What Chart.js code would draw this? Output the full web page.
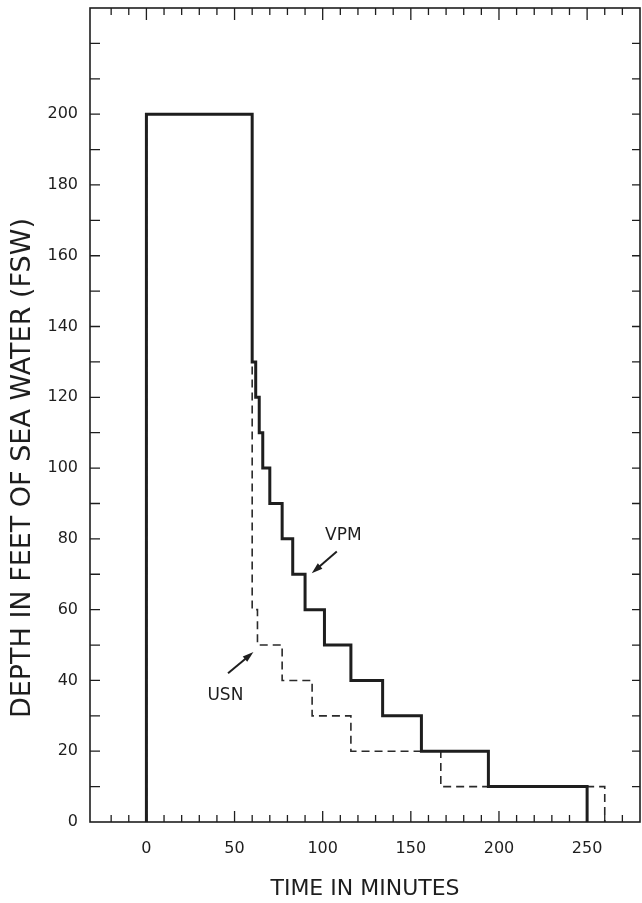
<!DOCTYPE html>
<html>
<head>
<meta charset="utf-8">
<title>VPM vs USN decompression profile</title>
<script src="https://cdn.jsdelivr.net/npm/chart.js@4.4.1/dist/chart.umd.min.js"></script>
<style>
    html, body { margin: 0; padding: 0; background: #fff; }
    #wrap { width: 642px; height: 903px; }
</style>
</head>
<body>
<div id="wrap"><canvas id="profileChart" width="642" height="903"></canvas></div>
<script>
// VPM schedule (solid): time in minutes / depth in fsw
const vpmTime  = [0, 0, 60, 60, 62, 62, 64, 64, 66, 66, 70, 70, 77, 77, 83, 83, 90, 90, 101, 101, 116, 116, 134, 134, 156, 156, 194, 194, 250, 250];
const vpmDepth = [0, 200, 200, 130, 130, 120, 120, 110, 110, 100, 100, 90, 90, 80, 80, 70, 70, 60, 60, 50, 50, 40, 40, 30, 30, 20, 20, 10, 10, 0];

// USN schedule (dashed)
const usnTime  = [0, 0, 60, 60, 63, 63, 77, 77, 94, 94, 116, 116, 167, 167, 260, 260];
const usnDepth = [0, 200, 200, 60, 60, 50, 50, 40, 40, 30, 30, 20, 20, 10, 10, 0];

// axis labels and tick marks
const xTickLabels = [0, 50, 100, 150, 200, 250];
const yTickLabels = [0, 20, 40, 60, 80, 100, 120, 140, 160, 180, 200];
const xMarks = [-20, -10, 0, 10, 20, 30, 40, 50, 60, 70, 80, 90, 100, 110, 120, 130, 140, 150, 160, 170, 180, 190, 200, 210, 220, 230, 240, 250, 260, 270];
const yMarks = [10, 20, 30, 40, 50, 60, 70, 80, 90, 100, 110, 120, 130, 140, 150, 160, 170, 180, 190, 200, 210, 220];

// arrow callouts (in minutes / fsw)
const calloutText = ['VPM', 'USN'];
const calloutAt   = [[111.7, 80.8], [44.8, 35.6]];
const calloutFrom = [[108, 76.4], [46.3, 42.0]];
const calloutTo   = [[93.8, 70.3], [60.7, 48.0]];

const INK = '#1e1e1e';
const FONT = "'DejaVu Sans', sans-serif";

function toPoints(xs, ys) {
    return xs.map((x, i) => ({ x: x, y: ys[i] }));
}

// box, inward tick marks, y title and the callouts
const framePlugin = {
    id: 'frame',
    afterDatasetsDraw(chart) {
        const { ctx, chartArea: a, scales: { x, y } } = chart;
        ctx.save();
        ctx.strokeStyle = INK;
        ctx.lineWidth = 1.6;
        ctx.strokeRect(a.left, a.top, a.right - a.left, a.bottom - a.top);

        ctx.lineWidth = 1.3;
        ctx.beginPath();
        xMarks.forEach(v => {
            const px = x.getPixelForValue(v);
            const big = v % 50 === 0;
            ctx.moveTo(px, a.bottom);
            ctx.lineTo(px, a.bottom - (big ? 11 : 7));
            ctx.moveTo(px, a.top);
            ctx.lineTo(px, a.top + (big ? 12 : 7));
        });
        yMarks.forEach(v => {
            const py = y.getPixelForValue(v);
            ctx.moveTo(a.left, py);
            ctx.lineTo(a.left + 10, py);
            ctx.moveTo(a.right, py);
            ctx.lineTo(a.right - 8, py);
        });
        ctx.stroke();

        // callouts
        ctx.fillStyle = INK;
        ctx.font = '17px ' + FONT;
        ctx.textAlign = 'center';
        ctx.textBaseline = 'middle';
        calloutText.forEach((t, i) => {
            ctx.fillText(t, x.getPixelForValue(calloutAt[i][0]), y.getPixelForValue(calloutAt[i][1]));
            const x1 = x.getPixelForValue(calloutFrom[i][0]), y1 = y.getPixelForValue(calloutFrom[i][1]);
            const x2 = x.getPixelForValue(calloutTo[i][0]), y2 = y.getPixelForValue(calloutTo[i][1]);
            const ang = Math.atan2(y2 - y1, x2 - x1);
            ctx.lineWidth = 2;
            ctx.beginPath();
            ctx.moveTo(x1, y1);
            ctx.lineTo(x2 - 6 * Math.cos(ang), y2 - 6 * Math.sin(ang));
            ctx.stroke();
            ctx.beginPath();
            ctx.moveTo(x2, y2);
            ctx.lineTo(x2 - 11 * Math.cos(ang) + 3.5 * Math.sin(ang), y2 - 11 * Math.sin(ang) - 3.5 * Math.cos(ang));
            ctx.lineTo(x2 - 11 * Math.cos(ang) - 3.5 * Math.sin(ang), y2 - 11 * Math.sin(ang) + 3.5 * Math.cos(ang));
            ctx.closePath();
            ctx.fill();
        });

        // y axis title, centred on the labelled 0-200 range
        ctx.font = '27px ' + FONT;
        ctx.translate(23, y.getPixelForValue(100));
        ctx.rotate(-Math.PI / 2);
        ctx.fillText('DEPTH IN FEET OF SEA WATER (FSW)', 0, 0);
        ctx.restore();
    }
};

const ctx = document.getElementById('profileChart');

new Chart(ctx, {
    type: 'line',
    data: {
        datasets: [
            {
                label: 'USN',
                data: toPoints(usnTime, usnDepth),
                borderColor: '#2a2a2a',
                borderWidth: 1.6,
                borderDash: [8, 5],
                pointRadius: 0,
                tension: 0,
                order: 2
            },
            {
                label: 'VPM',
                data: toPoints(vpmTime, vpmDepth),
                borderColor: INK,
                borderWidth: 3,
                borderJoinStyle: 'miter',
                pointRadius: 0,
                tension: 0,
                order: 1
            }
        ]
    },
    options: {
        responsive: false,
        animation: false,
        layout: { padding: { top: 8, right: 2, left: 0, bottom: 0 } },
        plugins: {
            legend: { display: false },
            tooltip: { enabled: false }
        },
        scales: {
            x: {
                type: 'linear',
                min: -32,
                max: 280,
                afterBuildTicks: s => { s.ticks = xTickLabels.map(v => ({ value: v })); },
                afterFit: s => { s.height = 81; s.paddingLeft = 0; s.paddingRight = 0; },
                grid: { display: false, drawTicks: false },
                border: { display: false },
                ticks: {
                    font: { family: FONT, size: 16 },
                    color: INK,
                    padding: 17,
                    maxRotation: 0,
                    autoSkip: false
                },
                title: {
                    display: true,
                    text: 'TIME IN MINUTES',
                    font: { family: FONT, size: 22 },
                    color: INK,
                    padding: { top: 0, bottom: 1 }
                }
            },
            y: {
                type: 'linear',
                min: 0,
                max: 230,
                afterBuildTicks: s => { s.ticks = yTickLabels.map(v => ({ value: v })); },
                afterFit: s => { s.width = 90; s.paddingTop = 0; s.paddingBottom = 0; },
                grid: { display: false, drawTicks: false },
                border: { display: false },
                ticks: {
                    font: { family: FONT, size: 16 },
                    color: INK,
                    padding: 12,
                    autoSkip: false
                }
            }
        }
    },
    plugins: [framePlugin]
});
</script>
</body>
</html>
